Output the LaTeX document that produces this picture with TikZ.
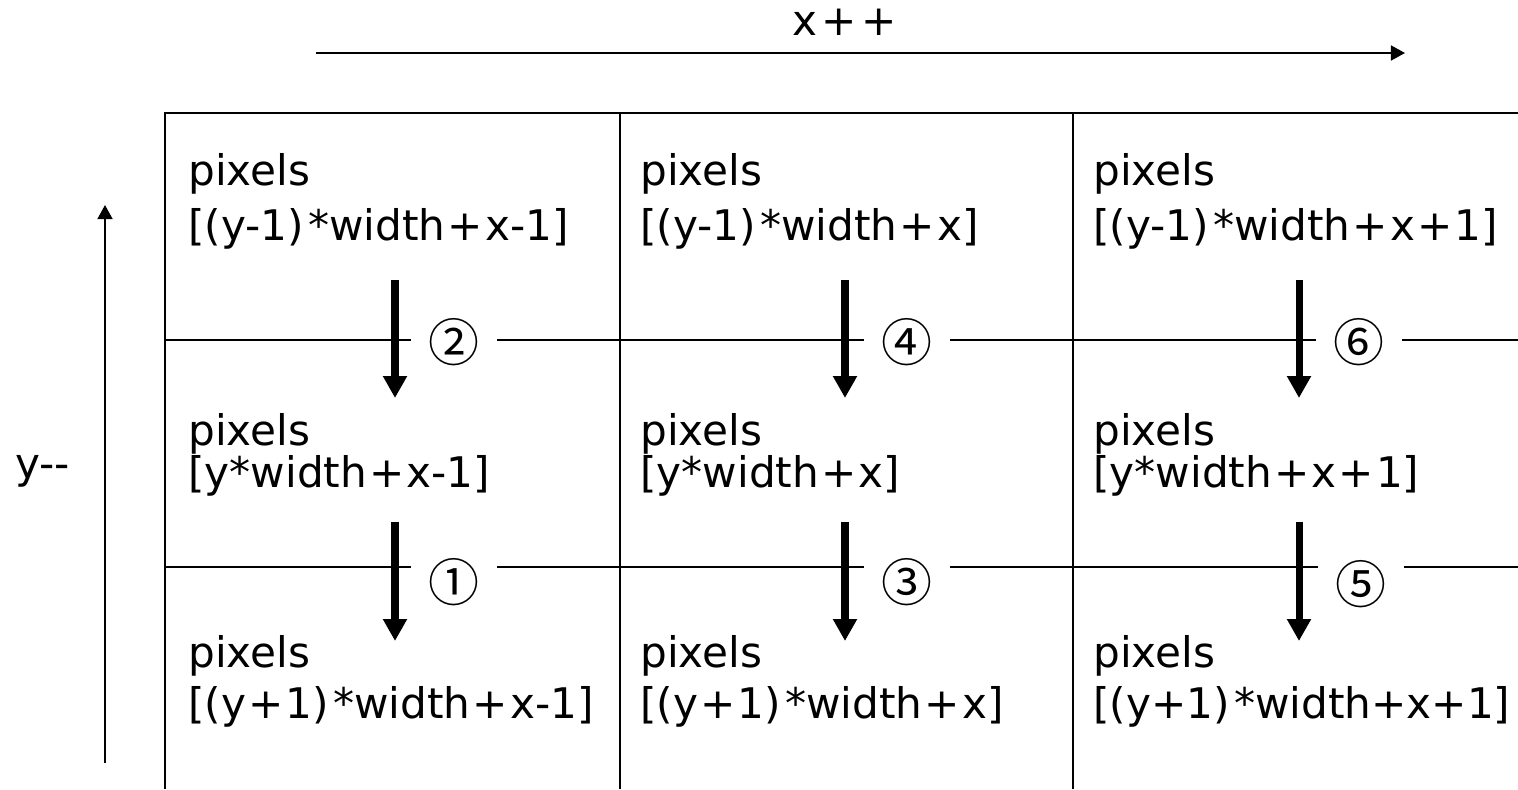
\documentclass[tikz,border=0pt]{standalone}
\usepackage{fontspec}
\setmainfont{DejaVu Sans}
\newfontfamily\cjk{Noto Sans CJK JP}
\usetikzlibrary{arrows.meta,positioning}
\newcommand{\pls}{\kern.05em+\kern.05em}
\newcommand{\mul}{\kern.1em*}

\begin{document}
\begin{tikzpicture}[
  x=0.02cm, y=-0.02cm, font=\fontsize{24}{28}\selectfont,
  txt/.style={anchor=base west, inner sep=0pt},
  num/.style={fill=white, inner sep=0pt, minimum width=1.72cm, minimum height=1cm,
              font=\cjk\fontsize{29}{33}\selectfont},
  gridline/.style={line width=1.1pt},
  axis/.style={-{Triangle[length=8pt, width=8.5pt]}, line width=1.1pt},
  dn/.style={-{Triangle[length=12.5pt, width=13pt]}, line width=4pt},
]
  \useasboundingbox (0,0) rectangle (1518,789);

  % axes
  \node[txt] (xlab) at (792,35) {x\kern.1em+\kern.1em+};
  \coordinate (xa) at (316,53);
  \coordinate (xb) at (1405,53);
  \draw[axis] (xa) -- (xb);
  \node[txt] (ylab) at (15,478) {y-{}-};
  \coordinate (ya) at (105,763);
  \coordinate (yb) at (105,205);
  \draw[axis] (ya) -- (yb);

  % grid
  \draw[gridline] (1518,113) -- (165,113) -- (165,789);
  \draw[gridline] (620,113) -- (620,789);
  \draw[gridline] (1073,113) -- (1073,789);
  \draw[gridline] (165,340) -- (1518,340);
  \draw[gridline] (165,567) -- (1518,567);

  % step numbers
  \node[num] (n2) at (454,342) {②};
  \node[num] (n4) at (907,342) {④};
  \node[num] (n6) at (1359,342) {⑥};
  \node[num] (n1) at (454,582) {①};
  \node[num] (n3) at (907,582) {③};
  \node[num] (n5) at (1361,584) {⑤};

  % downward steps
  \coordinate (a1) at (395,280);  \coordinate (b1) at (395,398);
  \coordinate (a2) at (845,280);  \coordinate (b2) at (845,398);
  \coordinate (a3) at (1299,280); \coordinate (b3) at (1299,398);
  \coordinate (c1) at (395,522);  \coordinate (d1) at (395,641);
  \coordinate (c2) at (845,522);  \coordinate (d2) at (845,641);
  \coordinate (c3) at (1299,522); \coordinate (d3) at (1299,641);
  \draw[dn] (a1) -- (b1);
  \draw[dn] (a2) -- (b2);
  \draw[dn] (a3) -- (b3);
  \draw[dn] (c1) -- (d1);
  \draw[dn] (c2) -- (d2);
  \draw[dn] (c3) -- (d3);

  % cells, top row
  \node[txt] (p11) at (188,185) {pixels};
  \node[txt] (f11) at (188,240) {[(y-1)\mul width\pls x-1]};
  \node[txt] (p12) at (640,185) {pixels};
  \node[txt] (f12) at (640,240) {[(y-1)\mul width\pls x]};
  \node[txt] (p13) at (1093,185) {pixels};
  \node[txt] (f13) at (1093,240) {[(y-1)\mul width\pls x\pls 1]};
  % middle row
  \node[txt] (p21) at (188,445) {pixels};
  \node[txt] (f21) at (188,487) {[y*width\pls x-1]};
  \node[txt] (p22) at (640,445) {pixels};
  \node[txt] (f22) at (640,487) {[y*width\pls x]};
  \node[txt] (p23) at (1093,445) {pixels};
  \node[txt] (f23) at (1093,487) {[y*width\pls x\pls 1]};
  % bottom row
  \node[txt] (p31) at (188,667) {pixels};
  \node[txt] (f31) at (188,718) {[(y\pls 1)\mul width\pls x-1]};
  \node[txt] (p32) at (640,667) {pixels};
  \node[txt] (f32) at (640,718) {[(y\pls 1)\mul width\pls x]};
  \node[txt] (p33) at (1093,667) {pixels};
  \node[txt] (f33) at (1093,718) {[(y+1)\mul width+x+1]};
\end{tikzpicture}
\end{document}
